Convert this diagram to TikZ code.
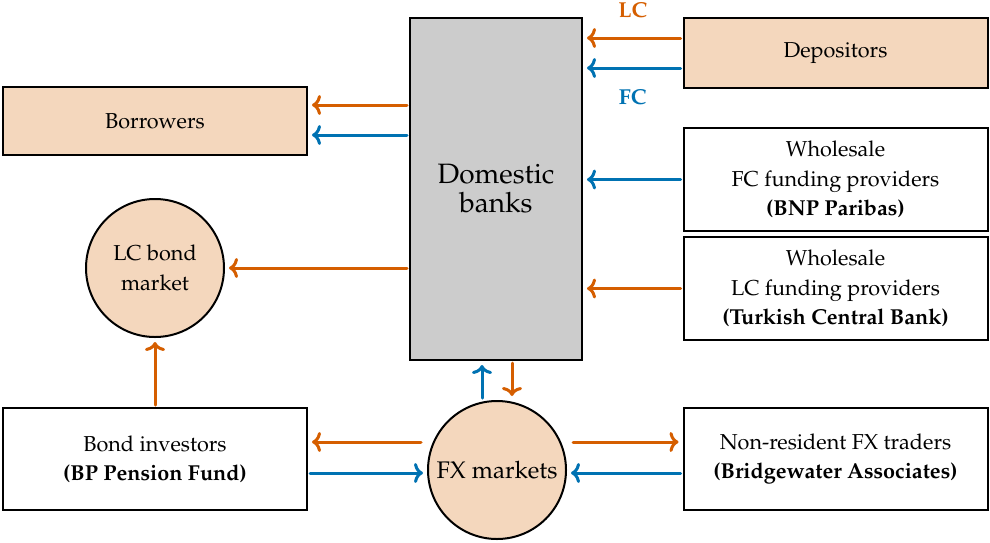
\documentclass[tikz,border=0pt]{standalone}
\usepackage[T1]{fontenc}
\usepackage{mathpazo}
\usetikzlibrary{arrows.meta}
\definecolor{lccol}{RGB}{213,94,0}
\definecolor{fccol}{RGB}{0,114,178}
\definecolor{peach}{RGB}{244,215,189}
\definecolor{bankgray}{RGB}{204,204,204}
\begin{document}
\begin{tikzpicture}[x=0.5pt,y=-0.5pt,font=\fontsize{10.8}{14.6}\selectfont]
\tikzstyle{box}=[draw,line width=1pt,align=center,minimum width=152pt]
\tikzstyle{circ}=[draw,circle,line width=1pt,fill=peach,align=center,minimum size=69pt,inner sep=0pt]
\tikzstyle{lc}=[draw,lccol,line width=1.5pt,line cap=round,-{To[length=4.5pt,width=10pt]},shorten <=1pt,shorten >=2pt]
\tikzstyle{fc}=[lc,fccol]
\useasboundingbox (0,0) rectangle (990,542);
% banks and the boxes round them
\node[box,fill=bankgray,minimum width=86pt,minimum height=171pt,font=\fontsize{14}{14.5}\selectfont](banks)at(496,189){Domestic\\banks};
\node[box,fill=peach,minimum height=35pt](dep)at(835.5,53){Depositors};
\node[box,fill=peach,minimum height=34pt](bor)at(155,121){Borrowers};
\node[box,minimum height=51.5pt](wfc)at(835.5,179.5){Wholesale\\FC funding providers\\\textbf{(BNP Paribas)}};
\node[box,minimum height=51.5pt](wlc)at(835.5,288.5){Wholesale\\LC funding providers\\\textbf{(Turkish Central Bank)}};
\node[circ](bond)at(155,268){LC bond\\market};
\node[box,minimum height=51pt](inv)at(155,459){Bond investors\\\textbf{(BP Pension Fund)}};
\node[circ,font=\fontsize{12}{14.6}\selectfont](fx)at(497,470){FX markets};
\node[box,minimum height=51pt](nrt)at(835.5,459){Non-resident FX traders\\\textbf{(Bridgewater Associates)}};
% flows
\path[lc]([yshift=7.5pt]dep.west)--([yshift=7.5pt]dep.west-|banks.east)node[midway,above=6pt,lccol,font=\fontsize{10.8}{14.6}\bfseries]{LC};
\path[fc]([yshift=-7.5pt]dep.west)--([yshift=-7.5pt]dep.west-|banks.east)node[midway,below=6.5pt,fccol,font=\fontsize{10.8}{14.6}\bfseries]{FC};
\path[lc]([yshift=8pt]bor.east-|banks.west)--([yshift=8pt]bor.east);
\path[fc]([yshift=-7pt]bor.east-|banks.west)--([yshift=-7pt]bor.east);
\path[fc](wfc.west)--(wfc.west-|banks.east);
\path[lc](wlc.west)--(wlc.west-|banks.east);
\path[lc](bond.east-|banks.west)--(bond.east);
\path[lc](inv.north)--(bond.south);
\path[fc]([xshift=-7.5pt]fx.north)--([xshift=-7.5pt]fx.north|-banks.south);
\path[lc]([xshift=7.5pt]fx.north|-banks.south)--([xshift=7.5pt]fx.north);
\path[lc,shorten <=3pt]([yshift=8.5pt]inv.east-|fx.west)--([yshift=8.5pt]inv.east);
\path[fc]([yshift=-7pt]inv.east)--([yshift=-7pt]inv.east-|fx.west);
\path[lc,shorten <=3pt]([yshift=8.5pt]nrt.west-|fx.east)--([yshift=8.5pt]nrt.west);
\path[fc]([yshift=-7pt]nrt.west)--([yshift=-7pt]nrt.west-|fx.east);
\end{tikzpicture}
\end{document}
